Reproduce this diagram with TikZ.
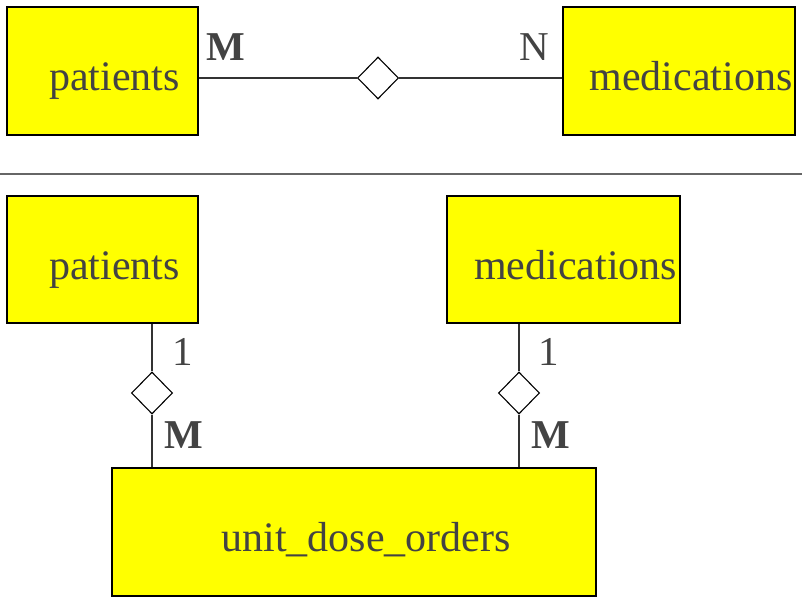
\documentclass[tikz,border=0pt]{standalone}
\usepackage{fontspec}
\setmainfont{Liberation Serif}
\usetikzlibrary{shapes.geometric}
\definecolor{inkgrey}{HTML}{434343}
\definecolor{linegrey}{HTML}{333333}
\definecolor{boxyellow}{HTML}{FFFF00}
\tikzset{
	entity/.style={draw=black, line width=1.6pt, fill=boxyellow, inner sep=0pt},
	etext/.style={anchor=base, text=inkgrey, font=\fontsize{42}{48}\selectfont},
	card/.style={anchor=base, text=inkgrey, font=\fontsize{41}{48}\selectfont},
	rel/.style={diamond, draw=black, line width=1.1pt, fill=white, inner sep=0pt, minimum width=41pt, minimum height=42pt},
	conn/.style={draw=linegrey, line width=1.2pt}
}

\begin{document}
\begin{tikzpicture}[x=1pt,y=-1pt]
			%%%%% START %%%%%
			\def\tx{12}
			\def\ty{19.5}
			\useasboundingbox (0,0) rectangle (802,605);
			
			% top: many-to-many
			\node[entity, minimum width=191pt, minimum height=128pt] (pat1) at (102.5,71) {};
			\node[etext] (pat1t) at ([xshift=\tx pt, yshift=-\ty pt]pat1.center) {patients};
			\node[entity, minimum width=232pt, minimum height=128pt] (med1) at (679,71) {};
			\node[etext] (med1t) at ([xshift=\tx pt, yshift=-\ty pt]med1.center) {medications};
			\node[rel] (rel1) at (378,78) {};
			\draw[conn] (pat1.east |- rel1.west) -- (rel1.west);
			\draw[conn] (rel1.east) -- (med1.west |- rel1.east);
			\node[card] (m1) at (226,60) {\textbf{M}};
			\node[card] (n1) at (534,60) {N};
			
			% separator
			\draw[draw=black!60, line width=1.5pt] (0,174) -- (802,174);
			
			% bottom: resolved through unit_dose_orders
			\node[entity, minimum width=191pt, minimum height=127pt] (pat2) at (102.5,259.5) {};
			\node[etext] (pat2t) at ([xshift=\tx pt, yshift=-\ty pt]pat2.center) {patients};
			\node[entity, minimum width=233pt, minimum height=127pt] (med2) at (563.5,259.5) {};
			\node[etext] (med2t) at ([xshift=\tx pt, yshift=-\ty pt]med2.center) {medications};
			\node[entity, minimum width=484pt, minimum height=128pt] (udo) at (354,532) {};
			\node[etext] (udot) at ([xshift=\tx pt, yshift=-\ty pt]udo.center) {unit\_dose\_orders};
			
			\node[rel] (rel2) at (152,393) {};
			\node[rel] (rel3) at (519,393) {};
			\draw[conn] (pat2.south -| rel2.north) -- (rel2.north);
			\draw[conn] (rel2.south) -- (udo.north -| rel2.south);
			\draw[conn] (med2.south -| rel3.north) -- (rel3.north);
			\draw[conn] (rel3.south) -- (udo.north -| rel3.south);
			
			\node[card] (one2) at (183,365) {1};
			\node[card] (m2) at (184,448) {\textbf{M}};
			\node[card] (one3) at (549,365) {1};
			\node[card] (m3) at (551,448) {\textbf{M}};
			%%%%% END %%%%%
		\end{tikzpicture}
\end{document}
